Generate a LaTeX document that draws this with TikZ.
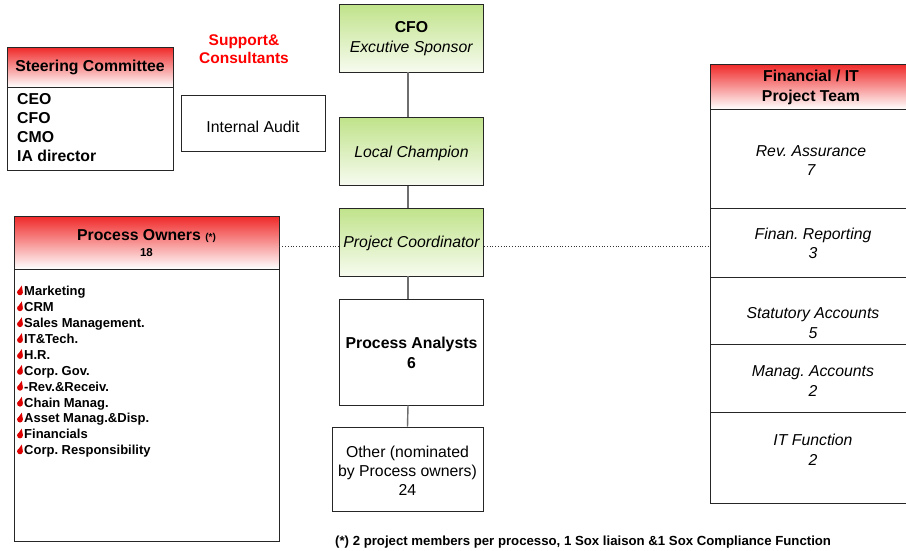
\documentclass[tikz,border=0pt]{standalone}
\usepackage{fontspec}
\setmainfont{Liberation Sans}
\frenchspacing
\definecolor{hdrred}{RGB}{240,40,40}
\definecolor{boxgreen}{RGB}{192,227,138}
\definecolor{boxgreenlight}{RGB}{247,251,240}
\definecolor{conngray}{RGB}{110,110,110}
\definecolor{dropred}{RGB}{220,0,0}
\definecolor{suppred}{RGB}{255,0,0}
\begin{document}
\begin{tikzpicture}[x=1pt,y=-1pt,
  box/.style={draw=black!85, line width=0.9pt, inner sep=0pt, rectangle},
  redhdr/.style={box, top color=hdrred, bottom color=white},
  greenbox/.style={box, top color=boxgreen, bottom color=boxgreenlight},
  conn/.style={draw=conngray, line width=1.4pt},
  txt/.style={inner sep=0pt, font=\fontsize{15.8}{19.5}\selectfont\frenchspacing, align=center},
  item/.style={inner sep=0pt, anchor=base west, font=\fontsize{13}{15}\selectfont\bfseries\frenchspacing},
  drop/.pic={
    \fill[dropred] (-4,-3.3) circle (2.9);
    \fill[dropred] (-6.7,-4) -- (-2.2,-10.2) -- (-1.2,-4) -- cycle;
  }]
\useasboundingbox (0,0) rectangle (906,550);
\clip (0,0) rectangle (906,550);
\fill[white] (0,0) rectangle (906,550);

% Steering Committee
\node[redhdr, minimum width=166, minimum height=40] (sch) at (90,67) {};
\node[txt, font=\fontsize{15.8}{19}\selectfont\bfseries] (scht) at (90,67) {Steering Committee};
\node[box, minimum width=166, minimum height=83, anchor=north] (scb) at (sch.south) {};
\node[txt, anchor=west, align=left, font=\fontsize{15.8}{19}\selectfont\bfseries] (scbt) at (17,127.5) {CEO\\CFO\\CMO\\IA director};

% Support & Consultants
\node[txt, text=suppred, font=\fontsize{15.5}{18}\selectfont\bfseries] (supp) at (244,49) {Support\&\\Consultants};

% Internal Audit
\node[box, minimum width=144, minimum height=56] (ia) at (253,123) {};
\node[txt] (iat) at (253,127) {Internal Audit};

% central chain
\node[greenbox, minimum width=144, minimum height=68] (cfo) at (411.5,38) {};
\node[txt, font=\fontsize{15.8}{20}\selectfont] (cfot) at (411.5,39) {\textbf{CFO}\\\textit{Excutive Sponsor}};
\node[greenbox, minimum width=144, minimum height=68] (lc) at (411.5,151.5) {};
\node[txt, font=\fontsize{15.8}{20}\selectfont\itshape] (lct) at (411.5,153) {Local Champion};
\node[greenbox, minimum width=144, minimum height=68] (pc) at (411.5,242) {};
\node[txt, font=\fontsize{15.8}{20}\selectfont\itshape] (pct) at (411.5,243) {Project Coordinator};
\node[box, minimum width=144, minimum height=106] (pa) at (411.5,352) {};
\node[txt, font=\fontsize{15.8}{20}\selectfont\bfseries] (pat) at (411.5,353) {Process Analysts\\6};
\node[box, minimum width=151, minimum height=84] (oth) at (407.5,469) {};
\node[txt, font=\fontsize{15.8}{19}\selectfont] (otht) at (407.5,471) {Other (nominated\\by Process owners)\\24};

\draw[conn] ([xshift=-3.5pt]cfo.south) -- ([xshift=-3.5pt]lc.north);
\draw[conn] ([xshift=-3.5pt]lc.south) -- ([xshift=-3.5pt]pc.north);
\draw[conn] ([xshift=-3.5pt]pc.south) -- ([xshift=-3.5pt]pa.north);
\draw[conn] ([xshift=-3.5pt]pa.south) -- (oth.north);

% Process Owners
\node[redhdr, minimum width=265, minimum height=53] (poh) at (146.5,242.5) {};
\node[txt, font=\fontsize{15.8}{19}\selectfont\bfseries] (poht) at (146.5,236) {Process Owners {\fontsize{10}{12}\selectfont(*)}};
\node[txt, font=\fontsize{11.5}{13}\selectfont\bfseries] (pohn) at (146.5,253) {18};
\node[box, minimum width=265, minimum height=272, anchor=north] (pob) at (poh.south) {};
\foreach \t [count=\i] in {Marketing, CRM, Sales Management., IT\&Tech., H.R., Corp. Gov., -Rev.\&Receiv., Chain Manag., Asset Manag.\&Disp., Financials, Corp. Responsibility}{
  \node[item] (po\i) at (24,{295.7+15.9*(\i-1)}) {\t};
  \pic at (po\i.base west) {drop};
}

% Financial / IT Project Team
\node[redhdr, minimum width=206, minimum height=45] (fth) at (813,86.5) {};
\node[txt, font=\fontsize{15.8}{20}\selectfont\bfseries] (ftht) at (811,87) {Financial / IT\\Project Team};
\node[box, minimum width=206, minimum height=99] (fs1) at (813,158.5) {};
\node[box, minimum width=206, minimum height=69] (fs2) at (813,242.5) {};
\node[box, minimum width=206, minimum height=67] (fs3) at (813,310.5) {};
\node[box, minimum width=206, minimum height=68] (fs4) at (813,378) {};
\node[box, minimum width=206, minimum height=91] (fs5) at (813,457.5) {};
\node[txt, font=\fontsize{15.8}{19}\selectfont\itshape] (fs1t) at (811,161) {Rev. Assurance\\7};
\node[txt, font=\fontsize{15.8}{19.5}\selectfont\itshape] (fs2t) at (813,243.5) {Finan. Reporting\\3};
\node[txt, font=\fontsize{15.8}{19.5}\selectfont\itshape] (fs3t) at (813,323) {Statutory Accounts\\5};
\node[txt, font=\fontsize{15.8}{20}\selectfont\itshape] (fs4t) at (813,381) {Manag. Accounts\\2};
\node[txt, font=\fontsize{15.8}{19.5}\selectfont\itshape] (fs5t) at (813,450) {IT Function\\2};

% dotted link
\draw[dotted, line width=0.8pt, draw=black!80] (poh.east |- 0,246) -- (pc.west |- 0,246);
\draw[dotted, line width=0.8pt, draw=black!80] (pc.east |- 0,246) -- (fs2.west |- 0,246);

% footnote
\node[inner sep=0pt, anchor=west, font=\fontsize{13.2}{15}\selectfont\bfseries] (note) at (335,542) {(*) 2 project members per processo, 1 Sox liaison \&1 Sox Compliance Function};
\end{tikzpicture}
\end{document}
